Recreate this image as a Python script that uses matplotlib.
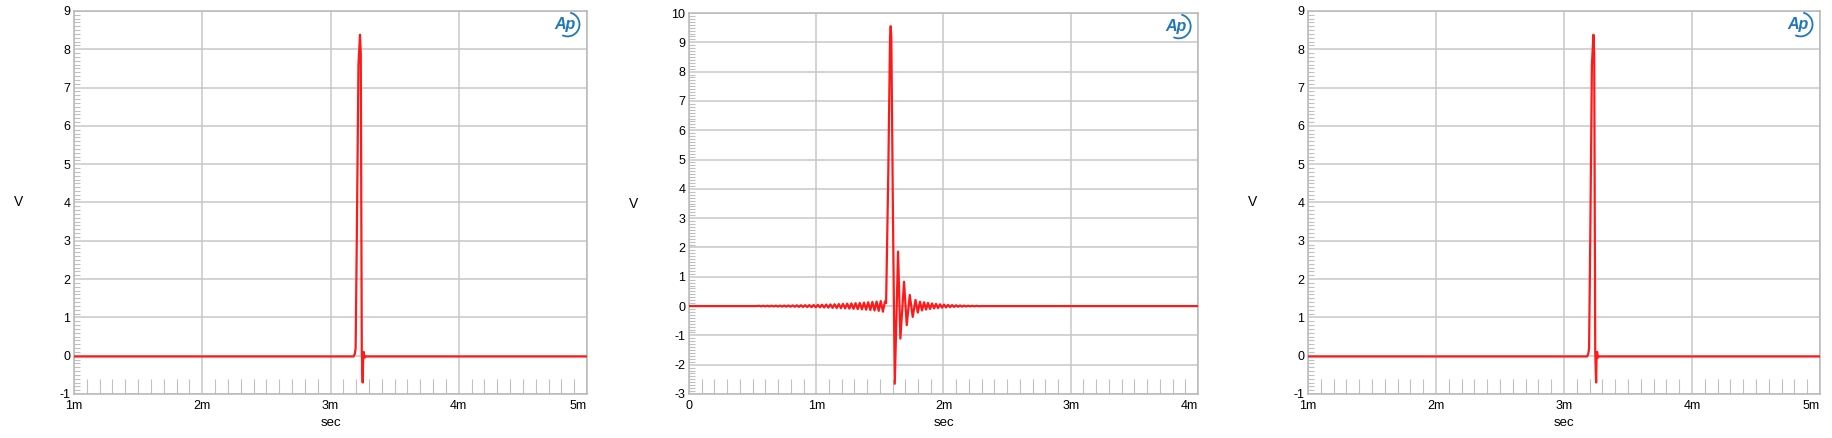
import matplotlib
matplotlib.use("Agg")
import matplotlib.pyplot as plt
from matplotlib.patches import Arc
from matplotlib.ticker import MultipleLocator

plt.rcParams['font.family'] = ['Liberation Sans', 'DejaVu Sans']

# Panel 1 / 3: single pulse, time in ms
pulse_t = [1.0, 3.18, 3.190, 3.196, 3.205, 3.218, 3.230, 3.236, 3.244, 3.251, 3.255, 3.259, 3.264, 3.272, 5.0]
pulse_v = [-0.02, -0.02, 0.05, 0.2, 3.0, 7.6, 8.38, 7.9, 0.1, -0.7, 0.05, 0.1, -0.05, -0.02, -0.02]

# Panel 2: pulse with pre- and post-ringing, time in ms
ring_t = [0.0, 0.53,
          0.550, 0.567, 0.583, 0.600, 0.616, 0.633, 0.649, 0.666, 0.682, 0.699,
          0.715, 0.732, 0.748, 0.765, 0.781, 0.798, 0.814, 0.831, 0.847, 0.864,
          0.880, 0.897, 0.913, 0.930, 0.946, 0.963, 0.979, 0.996, 1.012, 1.029,
          1.045, 1.062, 1.078, 1.095, 1.111, 1.128, 1.144, 1.161, 1.177, 1.194,
          1.210, 1.227, 1.243, 1.260, 1.276, 1.293, 1.309, 1.326, 1.342, 1.359,
          1.375, 1.392, 1.408, 1.425, 1.441, 1.458, 1.474, 1.491, 1.507, 1.524,
          1.540, 1.549, 1.566, 1.580, 1.585, 1.590, 1.603, 1.617, 1.643, 1.661,
          1.690, 1.711, 1.735, 1.758, 1.780, 1.798,
          1.815, 1.831, 1.847, 1.863, 1.878, 1.894, 1.910, 1.926, 1.941, 1.957,
          1.973, 1.989, 2.004, 2.020, 2.036, 2.052, 2.067, 2.083, 2.099, 2.115,
          2.130, 2.146, 2.162, 2.178, 2.193, 2.209, 2.225, 2.241, 2.260, 2.280,
          2.300, 4.0]
ring_v = [0.0, 0.0,
          0.010, -0.010, 0.011, -0.012, 0.012, -0.013, 0.014, -0.014, 0.015, -0.016,
          0.017, -0.018, 0.019, -0.020, 0.021, -0.022, 0.023, -0.024, 0.026, -0.027,
          0.028, -0.030, 0.031, -0.033, 0.034, -0.036, 0.038, -0.040, 0.042, -0.044,
          0.046, -0.049, 0.051, -0.054, 0.057, -0.060, 0.063, -0.066, 0.069, -0.072,
          0.075, -0.079, 0.083, -0.087, 0.091, -0.095, 0.099, -0.104, 0.108, -0.113,
          0.118, -0.124, 0.130, -0.136, 0.142, -0.150, 0.155, -0.165, 0.170, -0.190,
          0.16, 0.10, 4.5, 9.2, 9.55, 9.2, 3.0, -2.65, 1.86, -1.11,
          0.83, -0.65, 0.38, -0.37, 0.21, -0.22,
          0.15, -0.15, 0.13, -0.12, 0.11, -0.10, 0.09, -0.08, 0.075, -0.068,
          0.06, -0.055, 0.05, -0.045, 0.04, -0.037, 0.033, -0.03, 0.027, -0.025,
          0.022, -0.02, 0.018, -0.016, 0.014, -0.012, 0.011, -0.01, 0.008, -0.006,
          0.0, 0.0]

W, H = 1833, 438
fig = plt.figure(figsize=(W / 100, H / 100), dpi=100)

grid_col = '#c8c8c8'
red = '#ff1a1a'


def make_panel(left, right, top, bottom, t, v, xlim, ylim, xlabels):
    ax = fig.add_axes([left / W, (H - bottom) / H, (right - left) / W, (bottom - top) / H])
    ax.plot(t, v, color=red, lw=1.6, zorder=3)
    ax.set_xlim(*xlim)
    ax.set_ylim(*ylim)
    xt = list(range(int(xlim[0]), int(xlim[1]) + 1))
    yt = list(range(ylim[0], ylim[1] + 1))
    ax.set_xticks(xt)
    ax.set_xticklabels(xlabels)
    ax.set_yticks(yt)
    ax.set_yticklabels([str(y) for y in yt])
    ax.xaxis.set_minor_locator(MultipleLocator(0.1))
    ax.yaxis.set_minor_locator(MultipleLocator(0.1))
    ax.grid(True, which='major', color=grid_col, lw=1.1)
    ax.tick_params(axis='both', which='major', length=0, labelsize=9, colors='black')
    ax.tick_params(axis='x', which='major', pad=4.5)
    ax.tick_params(axis='y', which='major', pad=2.5)
    ax.tick_params(axis='x', which='minor', direction='in', length=11, width=0.8, color='#c0c0c0')
    ax.tick_params(axis='y', which='minor', direction='in', length=4, width=0.8, color='#c0c0c0')
    ax.xaxis.get_majorticklabels()[-1].set_horizontalalignment('right')
    for s in ax.spines.values():
        s.set_color('#b8b8b8')
        s.set_linewidth(1.1)
    ax.text(-0.108, 0.5, 'V', transform=ax.transAxes, ha='center', va='center', fontsize=10)
    ax.text(0.5, -0.076, 'sec', transform=ax.transAxes, ha='center', va='center', fontsize=9.5)
    # Ap logo
    ax.text(0.957, 0.965, 'Ap', transform=ax.transAxes, ha='center', va='center',
            fontsize=11.5, fontstyle='italic', fontweight='bold', color='#1f78b8', zorder=5)
    aw = 24 / (right - left)
    ah = 24 / (bottom - top)
    ax.add_patch(Arc((0.962, 0.965), aw, ah, theta1=-110, theta2=80, transform=ax.transAxes,
                     color='#1f78b8', lw=1.3, zorder=5))
    return ax


make_panel(74, 587, 11, 394, pulse_t, pulse_v, (1, 5), (-1, 9),
           ['1m', '2m', '3m', '4m', '5m'])
make_panel(689, 1198, 13, 394, ring_t, ring_v, (0, 4), (-3, 10),
           ['0', '1m', '2m', '3m', '4m'])
make_panel(1308, 1820, 11, 394, pulse_t, pulse_v, (1, 5), (-1, 9),
           ['1m', '2m', '3m', '4m', '5m'])

fig.savefig('out.png', dpi=100, facecolor='white')
